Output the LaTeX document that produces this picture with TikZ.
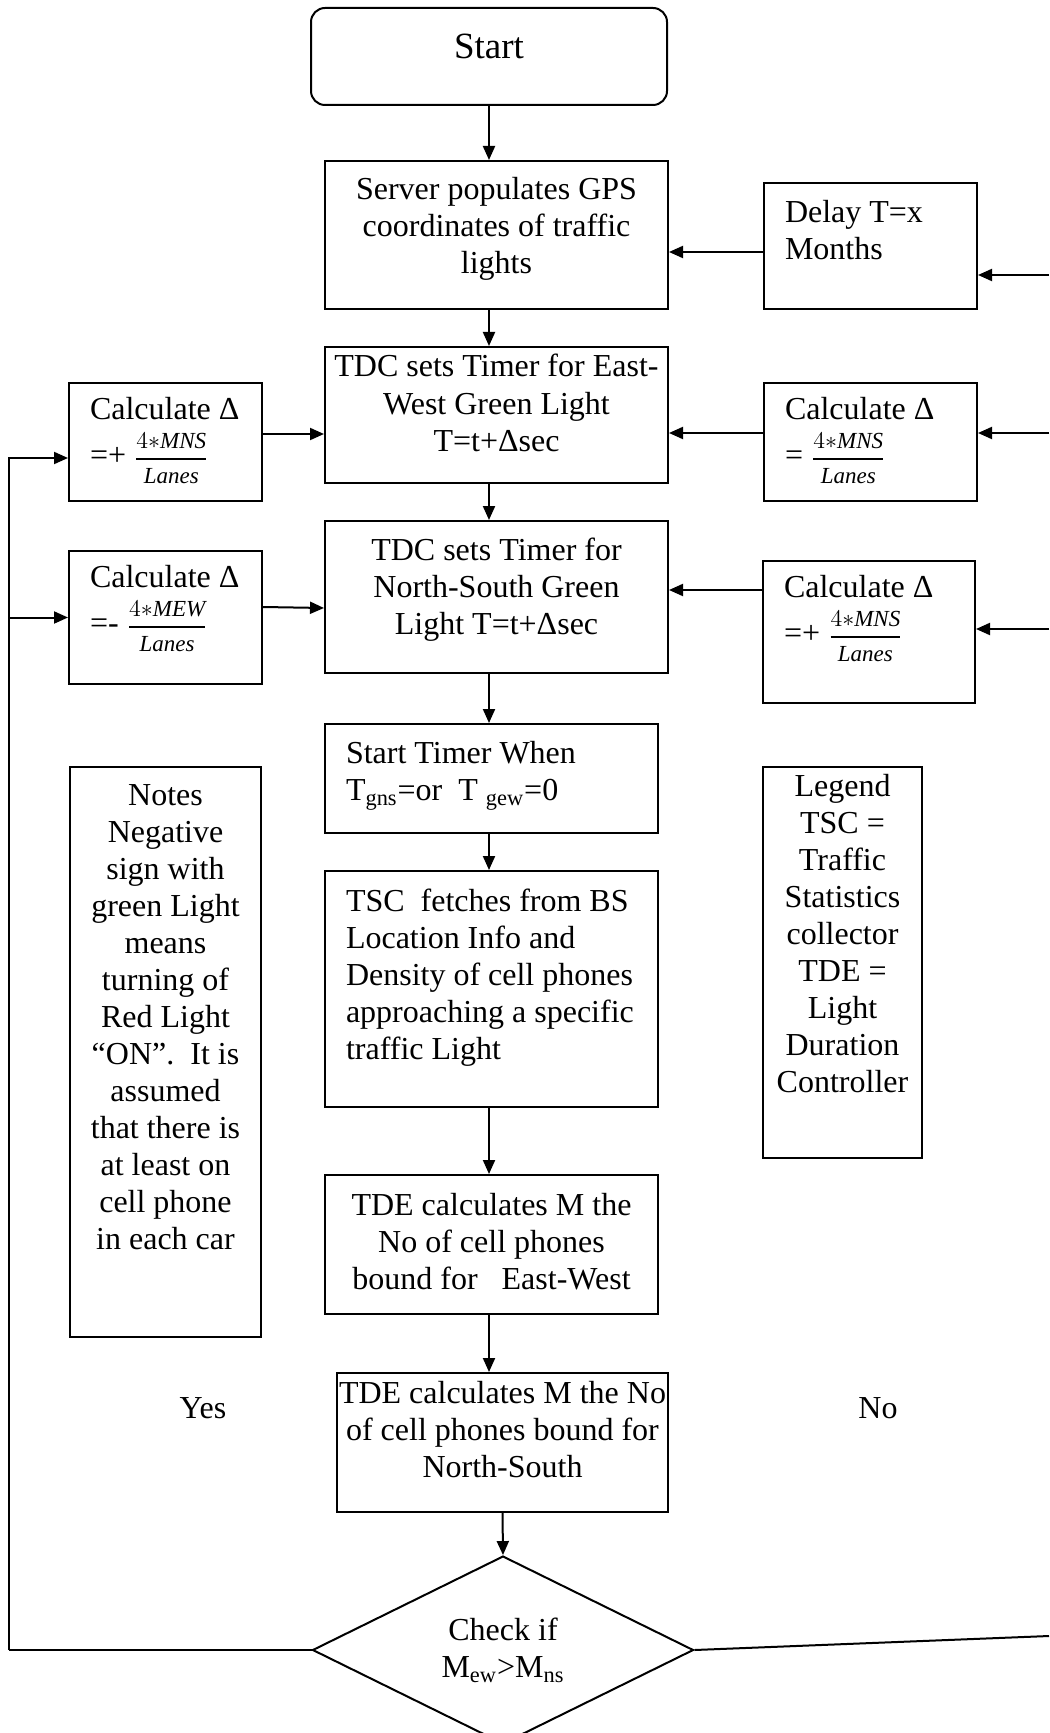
\documentclass[tikz,border=0pt]{standalone}
\usepackage{amsmath}
\usepackage{fontspec}
\setmainfont{Liberation Serif}
\usetikzlibrary{arrows.meta,shapes.geometric}
\newcommand\fl{\rule{0pt}{13pt}}
\newcommand\bx[5]{\parbox[c][#2][t]{#1}{\vspace*{#4}#3\fl#5}}
\newcommand\frc[2]{{\fontsize{11.5}{13}\selectfont$\genfrac{}{}{1.4pt}{0}{#1}{#2}$}}
\newcommand\lft{\raggedright\leftskip=10.5pt\relax}
\begin{document}
\begin{tikzpicture}[x=0.5pt,y=-0.5pt,
  every node/.style={font=\fontsize{16}{18.5}\selectfont},
  bxs/.style={draw, line width=1pt, inner sep=0pt},
  arr/.style={line width=1pt, -{Triangle[length=7pt,width=6pt]}},
  ln/.style={line width=1pt}]
\useasboundingbox (0,0) rectangle (1049,1733);

\node[bxs, rounded corners=7pt] (start) at (489,56.5) {\bx{178pt}{48.5pt}{\centering\fontsize{18.5}{22}\selectfont}{12.5pt}{Start}};
\node[bxs] (server) at (496.5,235) {\bx{171.5pt}{74pt}{\centering}{6.5pt}{Server populates GPS\\coordinates of traffic\\lights}};
\node[bxs] (delay) at (870.5,246) {\bx{106.5pt}{63pt}{\lft}{7pt}{Delay T=x\\Months}};
\node[bxs] (tdcew) at (496.5,415) {\bx{171.5pt}{68pt}{\centering}{2pt}{TDC sets Timer for East-\\West Green Light\\T=t+Δsec}};
\node[bxs] (lc1) at (165.5,442) {\bx{96.5pt}{59pt}{\lft}{5pt}{Calculate Δ\\[4.5pt]=+\ \frc{4{\ast}\mathit{MNS}}{\mathit{Lanes}}}};
\node[bxs] (rc1) at (870.5,442) {\bx{106.5pt}{59pt}{\lft}{5pt}{Calculate Δ\\[4.5pt]=\ \frc{4{\ast}\mathit{MNS}}{\mathit{Lanes}}}};
\node[bxs] (tdcns) at (496.5,597) {\bx{171.5pt}{76pt}{\centering}{6.5pt}{TDC sets Timer for\\North-South Green\\Light T=t+Δsec}};
\node[bxs] (lc2) at (165.5,617.5) {\bx{96.5pt}{66.5pt}{\lft}{5pt}{Calculate Δ\\[4.5pt]=-\ \frc{4{\ast}\mathit{MEW}}{\mathit{Lanes}}}};
\node[bxs] (rc2) at (869,632) {\bx{106pt}{71pt}{\lft}{5pt}{Calculate Δ\\[4.5pt]=+\ \frc{4{\ast}\mathit{MNS}}{\mathit{Lanes}}}};
\node[bxs] (timer) at (491.5,778.5) {\bx{166.5pt}{54.5pt}{\lft}{6.5pt}{Start Timer When\\T\textsubscript{gns}=or\ \ T \textsubscript{gew}=0}};
\node[bxs] (notes) at (165.5,1052) {\bx{95.5pt}{285pt}{\centering}{6.25pt}{Notes\\Negative\\sign with\\green Light\\means\\turning of\\Red Light\\“ON”.\ \ It is\\assumed\\that there is\\at least on\\cell phone\\in each car}};
\node[bxs] (legend) at (842.5,962.5) {\bx{79.5pt}{195.5pt}{\centering}{1.5pt}{Legend\\TSC =\\Traffic\\Statistics\\collector\\TDE =\\Light\\Duration\\Controller}};
\node[bxs] (tsc) at (491.5,989) {\bx{166.5pt}{118pt}{\lft}{7pt}{TSC\ \ fetches from BS\\Location Info and\\Density of cell phones\\approaching a specific\\traffic Light}};
\node[bxs] (tdeew) at (491.5,1244.5) {\bx{166.5pt}{69.5pt}{\centering}{7pt}{TDE calculates M the\\No of cell phones\\bound for\ \ \ East-West}};
\node[bxs] (tdens) at (502.5,1442.5) {\bx{165.5pt}{69.5pt}{\centering}{2pt}{TDE calculates M the No\\of cell phones bound for\\North-South}};
\node[draw, diamond, line width=1pt, minimum width=190.5pt, minimum height=85pt, inner sep=0pt, align=center] (dia) at (503,1650) {Check if\\M\textsubscript{ew}>M\textsubscript{ns}};
\node[anchor=base] (yes) at (203,1418) {Yes};
\node[anchor=base] (no) at (878,1418) {No};

\draw[arr] (start.south) -- (start.south |- server.north);
\draw[arr] (server.south -| start.south) -- (tdcew.north -| start.south);
\draw[arr] (tdcew.south -| start.south) -- (tdcns.north -| start.south);
\draw[arr] (tdcns.south -| start.south) -- (timer.north -| start.south);
\draw[arr] (timer.south -| start.south) -- (tsc.north -| start.south);
\draw[arr] (tsc.south -| start.south) -- (tdeew.north -| start.south);
\draw[arr] (tdeew.south -| start.south) -- (tdens.north -| start.south);
\draw[arr] (tdens.south) -- (dia.north);

\draw[arr] (delay.west |- 0,252) -- (server.east |- 0,252);
\draw[arr] (rc1.west |- 0,433) -- (tdcew.east |- 0,433);
\draw[arr] (rc2.west |- 0,590) -- (tdcns.east |- 0,590);
\draw[arr] (lc1.east |- 0,434) -- (tdcew.west |- 0,434);
\draw[arr] (lc2.east |- 0,607) -- (tdcns.west |- 0,608);

\coordinate (in1) at (1049,275);
\coordinate (in2) at (1049,433);
\coordinate (in3) at (1049,629);
\draw[arr] (in1) -- (in1 -| delay.east);
\draw[arr] (in2) -- (in2 -| rc1.east);
\draw[arr] (in3) -- (in3 -| rc2.east);
\coordinate (outR) at (1049,1636);
\draw[ln] (dia.east) -- (outR);
\coordinate (outL) at (9,1650);
\draw[ln] (dia.west) -- (outL);
\draw[arr] (outL) |- ([yshift=-8pt]lc1.west);
\draw[arr] (outL |- lc2.west) -- (lc2.west);
\end{tikzpicture}
\end{document}
